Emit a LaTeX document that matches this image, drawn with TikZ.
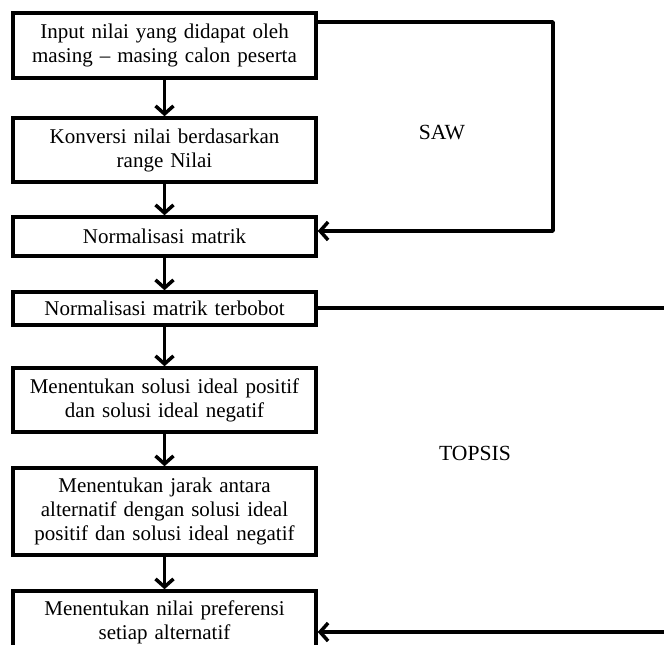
\documentclass[tikz,border=0pt]{standalone}
\usepackage{fontspec}
\setmainfont{Liberation Serif}
\usetikzlibrary{arrows.meta}
\begin{document}
\begin{tikzpicture}[x=1pt,y=-1pt,
  box/.style={draw,line width=3.5pt,minimum width=303pt,text width=295pt,align=center,inner sep=0pt,
    font=\fontsize{21}{24}\selectfont},
  conn/.style={line width=3.5pt,-{Straight Barb[length=8pt,width=18pt,line width=3.5pt]}},
  lbl/.style={font=\fontsize{21.6}{24}\selectfont}]
\useasboundingbox (0,0) rectangle (664,645);
\clip (0,0) rectangle (664,645);
\node[box,minimum height=65pt] (b1) at (164.5,45.5) {Input nilai yang didapat oleh\\masing -- masing calon peserta};
\node[box,minimum height=64pt] (b2) at (164.5,150) {Konversi nilai berdasarkan\\range Nilai};
\node[box,minimum height=39pt] (b3) at (164.5,236.5) {Normalisasi matrik};
\node[box,minimum height=33pt] (b4) at (164.5,308.5) {Normalisasi matrik terbobot};
\node[box,minimum height=64pt] (b5) at (164.5,400) {Menentukan solusi ideal positif\\dan solusi ideal negatif};
\node[box,minimum height=87pt] (b6) at (164.5,511.5) {Menentukan jarak antara\\alternatif dengan solusi ideal\\positif dan solusi ideal negatif};
\node[box,minimum height=62pt] (b7) at (164.5,622) {Menentukan nilai preferensi\\setiap alternatif};
\node[lbl] (saw) at (442,133) {SAW};
\node[lbl] (topsis) at (475,453) {TOPSIS};
\coordinate (sawtop) at (553,22);
\coordinate (sawbot) at (553,231);
\coordinate (topright) at (670,308);
\coordinate (botright) at (670,632);
\draw[conn] (b1) -- (b2);
\draw[conn] (b2) -- (b3);
\draw[conn] (b3) -- (b4);
\draw[conn] (b4) -- (b5);
\draw[conn] (b5) -- (b6);
\draw[conn] (b6) -- (b7);
\draw[conn,line join=round] (b1.east |- sawtop) -- (sawtop) -- (sawbot) -- (b3.east |- sawbot);
\draw[line width=3.5pt] (b4.east |- topright) -- (topright);
\draw[conn] (botright) -- (b7.east |- botright);
\end{tikzpicture}
\end{document}
